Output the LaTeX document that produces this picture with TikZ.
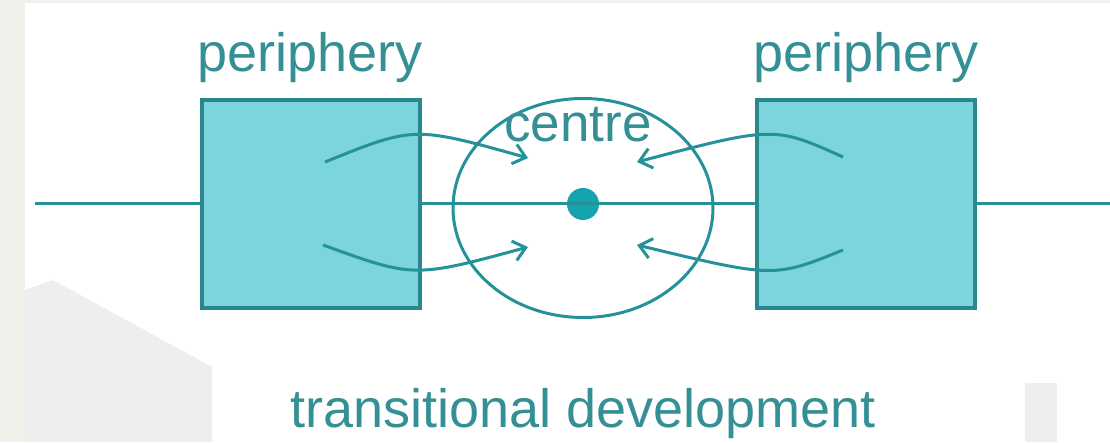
\documentclass[tikz,border=0pt]{standalone}
\usepackage{fontspec}
\setmainfont{Liberation Sans}
\usetikzlibrary{positioning, arrows.meta, shapes.geometric}
\definecolor{teal0}{RGB}{36,146,152}
\definecolor{tealtext}{RGB}{52,144,149}
\definecolor{tealfill}{RGB}{124,212,220}
\definecolor{tealedge}{RGB}{40,136,142}
\definecolor{tealdot}{RGB}{20,164,176}
\definecolor{paper}{RGB}{241,239,233}
\definecolor{ghost}{RGB}{238,238,238}

\begin{document}
\begin{tikzpicture}[x=1pt, y=1pt,
	sq/.style={draw=tealedge, fill=tealfill, line width=3.4pt, minimum width=218pt, minimum height=208pt, inner sep=0pt},
	ring/.style={draw=teal0, ellipse, line width=3pt, minimum width=260pt, minimum height=219pt, inner sep=0pt},
	dot/.style={fill=tealdot, circle, minimum size=32pt, inner sep=0pt},
	lbl/.style={text=tealtext, font=\fontsize{54}{62}\selectfont, anchor=base},
	wire/.style={draw=teal0, line width=3pt},
	flow/.style={draw=teal0, line width=3pt, -{Straight Barb[length=12pt, width=20pt]}}]
	\useasboundingbox (0,0) rectangle (1110,442);
	% background and faint watermark
	\fill[paper] (0,0) rectangle (1110,442);
	\fill[white] (25,0) rectangle (1110,439);
	\fill[ghost] (25,0) -- (25,152) -- (53,162) -- (212,75) -- (212,0) -- cycle;
	\fill[ghost] (1025,0) rectangle (1057,59);
	% blocks
	\node[sq] (p_0) at (311,238) {};
	\node[sq] (p_1) at (866,238) {};
	\node[ring] (c_0) at (583,234) {};
	\node[dot] (core) at (583,238) {};
	\coordinate (w_0) at (35,238);
	\coordinate (w_1) at (1110,238);
	\path[wire] (w_0) -- (p_0.west) (p_0.east) -- (p_1.west) (p_1.east) -- (w_1);
	% labels
	\node[lbl] (t_0) at (310,370) {periphery};
	\node[lbl] (t_1) at (866,370) {periphery};
	\node[lbl, font=\fontsize{53}{60}\selectfont] (t_c) at (578,300) {centre};
	\node[lbl] (t_d) at (583,15) {transitional development};
	% flows into the centre
	\coordinate (a_0) at (325,280); \coordinate (b_0) at (528,284);
	\coordinate (a_1) at (323,197); \coordinate (b_1) at (528,195);
	\coordinate (a_2) at (843,285); \coordinate (b_2) at (637,280);
	\coordinate (a_3) at (843,192); \coordinate (b_3) at (637,197);
	\draw[flow] (a_0) .. controls (414,316) .. (b_0);
	\draw[flow] (a_1) .. controls (414,164) .. (b_1);
	\draw[flow] (a_2) .. controls (774,316) .. (b_2);
	\draw[flow] (a_3) .. controls (774,164) .. (b_3);
\end{tikzpicture}
\end{document}
